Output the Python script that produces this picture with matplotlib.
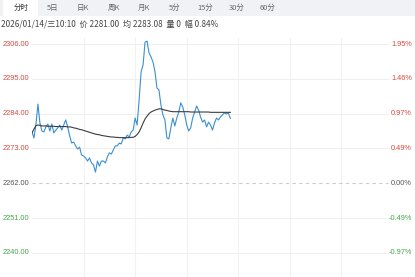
import matplotlib
matplotlib.use("Agg")
import matplotlib.pyplot as plt
from matplotlib.patches import Rectangle
import numpy as np

# minute-by-minute price and running average
price = [
    2278.2, 2276.3, 2280.7, 2287.0, 2281.0, 2278.5, 2278.2, 2279.8, 2280.7, 2278.5,
    2280.7, 2277.9, 2278.8, 2279.5, 2280.4, 2278.8, 2280.4, 2282.0, 2279.8, 2276.9,
    2274.7, 2275.0, 2273.8, 2272.8, 2273.4, 2270.9, 2270.6, 2270.0, 2269.0, 2270.0,
    2268.4, 2267.8, 2265.5, 2269.0, 2267.4, 2269.0, 2269.0, 2268.4, 2270.3, 2271.6,
    2271.2, 2272.5, 2273.8, 2273.8, 2274.7, 2274.4, 2276.3, 2276.0, 2277.2, 2276.6,
    2278.2, 2278.8, 2282.6, 2280.4, 2288.3, 2297.2, 2299.4, 2306.6, 2306.9, 2303.2,
    2301.9, 2300.3, 2297.2, 2292.1, 2291.5, 2286.7, 2283.6, 2282.0, 2276.3, 2276.0,
    2279.5, 2282.6, 2280.1, 2282.6, 2284.5, 2287.4, 2286.1, 2283.6, 2280.4, 2278.5,
    2279.5, 2282.6, 2284.5, 2286.4, 2285.1, 2282.9, 2281.3, 2282.0, 2279.8, 2281.3,
    2280.4, 2278.8, 2281.0, 2282.6, 2282.0, 2282.9, 2283.6, 2284.2, 2283.9, 2284.2,
    2282.5,
]
avg_price = [
    2277.9, 2279.1, 2280.2, 2280.4, 2280.3, 2280.1, 2280.1, 2280.1, 2280.0, 2280.0,
    2280.0, 2280.0, 2279.9, 2279.9, 2279.9, 2279.9, 2279.9, 2279.9, 2279.8, 2279.8,
    2279.7, 2279.5, 2279.4, 2279.2, 2279.0, 2278.9, 2278.7, 2278.5, 2278.3, 2278.1,
    2277.9, 2277.7, 2277.5, 2277.4, 2277.3, 2277.1, 2277.0, 2276.9, 2276.8, 2276.7,
    2276.6, 2276.6, 2276.5, 2276.5, 2276.4, 2276.4, 2276.4, 2276.4, 2276.4, 2276.4,
    2276.5, 2276.5, 2276.8, 2277.4, 2278.2, 2279.5, 2281.0, 2282.3, 2283.2, 2284.0,
    2284.5, 2284.8, 2285.1, 2285.3, 2285.5, 2285.5, 2285.3, 2285.1, 2285.0, 2284.8,
    2284.7, 2284.6, 2284.6, 2284.6, 2284.6, 2284.6, 2284.6, 2284.6, 2284.6, 2284.6,
    2284.5, 2284.5, 2284.5, 2284.5, 2284.5, 2284.5, 2284.5, 2284.5, 2284.5, 2284.5,
    2284.4, 2284.4, 2284.4, 2284.4, 2284.4, 2284.4, 2284.4, 2284.4, 2284.4, 2284.4,
    2284.4,
]
prev_close = 2262.0
y_ticks = [2306.0, 2295.0, 2284.0, 2273.0, 2262.0, 2251.0, 2240.0]
tabs = ['分时', '5日', '日K', '周K', '月K', '5分', '15分', '30分', '60分']
info = '2026/01/14/三10:10  价 2281.00  均 2283.08  量 0  幅 0.84%'

RED = '#d9473c'
GREEN = '#43a84a'
GREY = '#555555'
NUM_FONT = ['Liberation Sans', 'DejaVu Sans']
CJK_FONT = ['Noto Sans CJK SC', 'DejaVu Sans']

W, H = 415, 277
fig = plt.figure(figsize=(W / 100, H / 100), dpi=100)

# tab strip
fig.patches.append(Rectangle((0, 1 - 16 / H), 1, 16 / H, transform=fig.transFigure,
                             facecolor='#f0f2f6', edgecolor='none', zorder=0))
fig.patches.append(Rectangle((3 / W, 1 - 16 / H), 35 / W, 16 / H, transform=fig.transFigure,
                             facecolor='#ffffff', edgecolor='none', zorder=1))
for k, t in enumerate(tabs):
    fig.text((21.5 + 30.7 * k) / W, 1 - 8 / H, t, ha='center', va='center',
             fontsize=5.4, color='#333333' if k == 0 else '#666666', family=CJK_FONT)
fig.text(1 / W, 1 - 24.5 / H, info, ha='left', va='center', fontsize=5.9,
         color='#444444', family=CJK_FONT)

# chart area
x0, x1 = 32, 393
top_px = 38
ax = fig.add_axes([x0 / W, 0, (x1 - x0) / W, (H - top_px) / H])
px_per_unit = 34.8 / 11
ax.set_ylim(2306 - (H - 44) / px_per_unit, 2306 + (44 - top_px) / px_per_unit)
n_slots = 182
ax.set_xlim(0, n_slots)
for s in ax.spines.values():
    s.set_visible(False)
ax.set_xticks([])
ax.set_yticks([])

for v in range(26, n_slots, 26):
    ax.axvline(v, color='#f1f1f1', lw=0.8, zorder=1)
for v in y_ticks:
    if v == prev_close:
        ax.axhline(v, xmax=0.985, color='#cccccc', lw=0.8, dashes=(3, 3), zorder=1)
    else:
        ax.axhline(v, xmax=0.985, color='#efefef', lw=0.8, zorder=1)

x = np.arange(len(price))
ax.plot(x, price, color='#3a8fd2', lw=0.8, zorder=3)
ax.plot(x, avg_price, color='#3c3c3c', lw=0.8, zorder=4)

ytr = ax.get_yaxis_transform()
for v in y_ticks:
    pct = (v - prev_close) / prev_close * 100
    c = RED if v > prev_close else (GREEN if v < prev_close else GREY)
    ax.text(-3 / (x1 - x0), v, f'{v:.2f}', transform=ytr, ha='right', va='center',
            fontsize=5.3, color=c, family=NUM_FONT, clip_on=False)
    ax.text((412 - x0) / (x1 - x0), v, f'{pct:.2f}%', transform=ytr, ha='right',
            va='center', fontsize=5.3, color=c, family=NUM_FONT, clip_on=False)

fig.savefig('out.png', dpi=100, facecolor='white')
